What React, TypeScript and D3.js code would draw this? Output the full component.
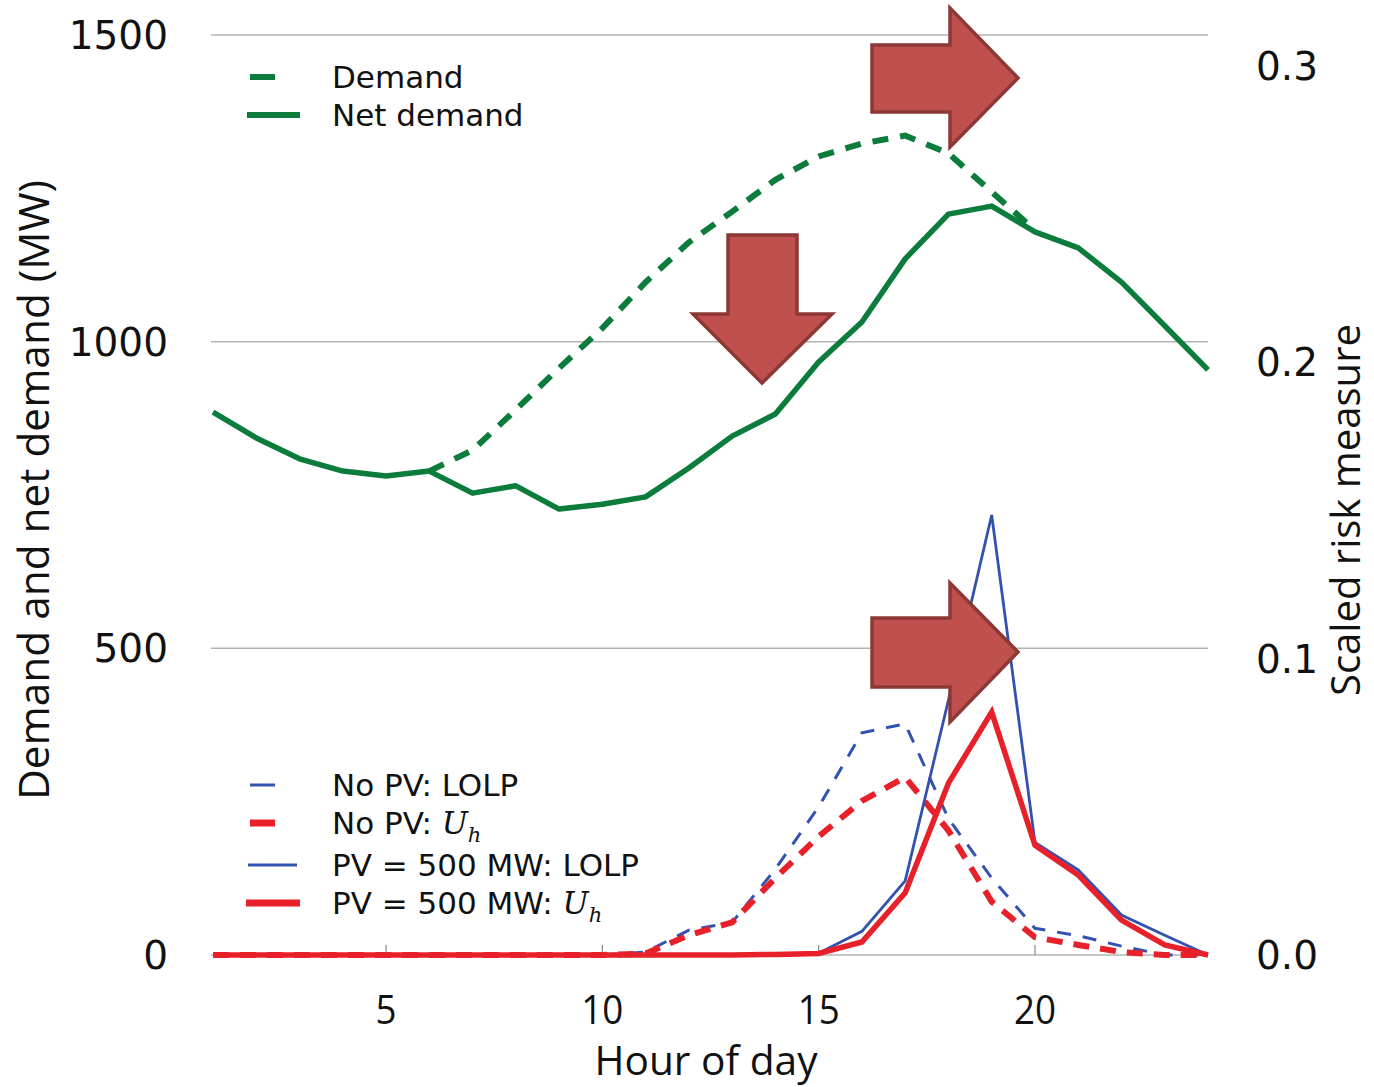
import React from 'react';
import * as d3 from 'd3';

// hours 1..24
const hours = d3.range(1, 25);

// MW, left axis
const demand = [885, 843, 809, 789, 781, 789, 823, 889, 957, 1022, 1097, 1162, 1212, 1264, 1302, 1323, 1336, 1307, 1244, 1182, 1153, 1097, 1026, 954];
const netDemand = [885, 843, 809, 789, 781, 789, 753, 765, 727, 735, 747, 794, 846, 882, 967, 1032, 1135, 1208, 1221, 1179, 1153, 1097, 1026, 954];

// scaled risk, right axis
const noPvLolp = [0, 0, 0, 0, 0, 0, 0, 0, 0, 0, 0.001, 0.0084, 0.011, 0.029, 0.05, 0.075, 0.078, 0.046, 0.026, 0.009, 0.0065, 0.003, 0, 0];
const noPvUh = [0, 0, 0, 0, 0, 0, 0, 0, 0, 0, 0.0005, 0.0067, 0.011, 0.026, 0.04, 0.052, 0.06, 0.042, 0.018, 0.006, 0.0034, 0.001, 0, 0];
const pvLolp = [0, 0, 0, 0, 0, 0, 0, 0, 0, 0, 0, 0, 0, 0.0002, 0.0006, 0.008, 0.025, 0.086, 0.1485, 0.038, 0.0287, 0.0135, 0.0067, 0];
const pvUh = [0, 0, 0, 0, 0, 0, 0, 0, 0, 0, 0, 0, 0, 0.0002, 0.0005, 0.0044, 0.021, 0.058, 0.082, 0.037, 0.027, 0.0118, 0.0034, 0];

const leftTicks = [0, 500, 1000, 1500];
const rightTicks = [0, 0.1, 0.2, 0.3];
const xTicks = [5, 10, 15, 20];

const GREEN = '#0b7c3b';
const BLUE = '#3352b0';
const RED = '#e8202a';
const ARROW_FILL = '#c0504d';
const ARROW_STROKE = '#8c3836';

const L = 211, R = 1208, T = 35, B = 955;

export default function App() {
  const x = d3.scaleLinear().domain([1, 24]).range([L + 2, R]);
  const yL = d3.scaleLinear().domain([0, 1500]).range([B, T]);
  const yR = d3.scaleLinear().domain([0, 0.3105]).range([B, T]);

  const lineL = d3.line<number>().x((_, i) => x(hours[i])).y(d => yL(d));
  const lineR = d3.line<number>().x((_, i) => x(hours[i])).y(d => yR(d));

  // demand only differs from net demand between hours 6 and 20
  const demandPart = demand.slice(5, 20);
  const demandLine = d3.line<number>().x((_, i) => x(hours[i + 5])).y(d => yL(d));

  const numFont = '"DejaVu Sans", sans-serif';
  const labFont = '"Open Sans", sans-serif';

  const rightArrow = (bx: number, by0: number, by1: number, hx: number, hy0: number, hy1: number, tx: number, ty: number) =>
    `M${bx},${by0}L${hx},${by0}L${hx},${hy0}L${tx},${ty}L${hx},${hy1}L${hx},${by1}L${bx},${by1}Z`;

  const legendTop = [
    { label: 'Demand', y: 77, x1: 250, x2: 275, w: 6, color: GREEN },
    { label: 'Net demand', y: 115, x1: 247, x2: 300, w: 6, color: GREEN },
  ];
  const legendBottom = [
    { pre: 'No PV: ', tail: 'LOLP', y: 785, x1: 250, x2: 275, w: 3, color: BLUE },
    { pre: 'No PV: ', tail: null, y: 823, x1: 250, x2: 275, w: 7, color: RED },
    { pre: 'PV = 500 MW: ', tail: 'LOLP', y: 865, x1: 248, x2: 297, w: 3, color: BLUE },
    { pre: 'PV = 500 MW: ', tail: null, y: 903, x1: 246, x2: 300, w: 7, color: RED },
  ];

  return (
    <svg width={1374} height={1087} style={{ position: 'absolute', left: 0, top: 0, background: '#fff' }}>
      {/* grid */}
      {leftTicks.map(t => (
        <line key={t} x1={L} x2={R} y1={yL(t)} y2={yL(t)} stroke="#b3b3b3" strokeWidth={1.5} />
      ))}
      {xTicks.map(t => (
        <line key={t} x1={x(t)} x2={x(t)} y1={B} y2={B - 10} stroke="#888" strokeWidth={1.2} />
      ))}

      {/* demand lines */}
      <path d={demandLine(demandPart) || ''} fill="none" stroke={GREEN} strokeWidth={6} strokeDasharray="16,12" />
      <path d={lineL(netDemand) || ''} fill="none" stroke={GREEN} strokeWidth={5.5} strokeLinejoin="round" />

      {/* risk lines */}
      <path d={lineR(noPvLolp) || ''} fill="none" stroke={BLUE} strokeWidth={3} strokeDasharray="14,12" />
      <path d={lineR(noPvUh) || ''} fill="none" stroke={RED} strokeWidth={6} strokeDasharray="16,11" />
      <path d={lineR(pvLolp) || ''} fill="none" stroke={BLUE} strokeWidth={2.8} />
      <path d={lineR(pvUh) || ''} fill="none" stroke={RED} strokeWidth={5.5} />

      {/* arrows */}
      <path d={rightArrow(872, 45, 112, 950, 8, 147, 1018, 78)} fill={ARROW_FILL} stroke={ARROW_STROKE} strokeWidth={3.5} />
      <path d={rightArrow(872, 618, 687, 950, 583, 722, 1018, 652)} fill={ARROW_FILL} stroke={ARROW_STROKE} strokeWidth={3.5} />
      <path d="M728,235L797,235L797,314L832,314L762,383L693,314L728,314Z" fill={ARROW_FILL} stroke={ARROW_STROKE} strokeWidth={3.5} />

      {/* left axis labels */}
      {leftTicks.map(t => (
        <text key={t} x={168} y={yL(t)} dy="0.36em" textAnchor="end" fontFamily={numFont} fontSize={39} fill="#111">{t}</text>
      ))}
      {/* right axis labels */}
      {rightTicks.map(t => (
        <text key={t} x={1256} y={yR(t)} dy="0.36em" textAnchor="start" fontFamily={numFont} fontSize={39} fill="#111">{t.toFixed(1)}</text>
      ))}
      {/* x labels */}
      {xTicks.map(t => (
        <text key={t} x={x(t)} y={1010} dy="0.35em" textAnchor="middle" fontFamily={labFont} fontSize={40} fill="#111"
          textLength={String(t).length * 21} lengthAdjust="spacingAndGlyphs">{t}</text>
      ))}
      <text x={706} y={1061} dy="0.35em" textAnchor="middle" fontFamily={labFont} fontSize={40} fill="#111"
        textLength={223} lengthAdjust="spacingAndGlyphs">Hour of day</text>
      <text transform="translate(34,490) rotate(-90)" textAnchor="middle" dy="0.35em" fontFamily={labFont} fontSize={42} fill="#111"
        textLength={620} lengthAdjust="spacingAndGlyphs">Demand and net demand (MW)</text>
      <text transform="translate(1346,510) rotate(-90)" textAnchor="middle" dy="0.35em" fontFamily={labFont} fontSize={40} fill="#111"
        textLength={372} lengthAdjust="spacingAndGlyphs">Scaled risk measure</text>

      {/* legends */}
      {legendTop.map(l => (
        <g key={l.label}>
          <line x1={l.x1} x2={l.x2} y1={l.y} y2={l.y} stroke={l.color} strokeWidth={l.w} />
          <text x={332} y={l.y} dy="0.36em" fontFamily={numFont} fontSize={31} fill="#111">{l.label}</text>
        </g>
      ))}
      {legendBottom.map(l => (
        <g key={l.y}>
          <line x1={l.x1} x2={l.x2} y1={l.y} y2={l.y} stroke={l.color} strokeWidth={l.w} />
          <text x={332} y={l.y} dy="0.36em" fontFamily={numFont} fontSize={31} fill="#111">
            {l.pre}
            {l.tail ? l.tail : (
              <>
                <tspan fontFamily='"DejaVu Serif", serif' fontStyle="italic">U</tspan>
                <tspan fontFamily='"DejaVu Serif", serif' fontStyle="italic" fontSize={21} dy="8">h</tspan>
              </>
            )}
          </text>
        </g>
      ))}
    </svg>
  );
}
